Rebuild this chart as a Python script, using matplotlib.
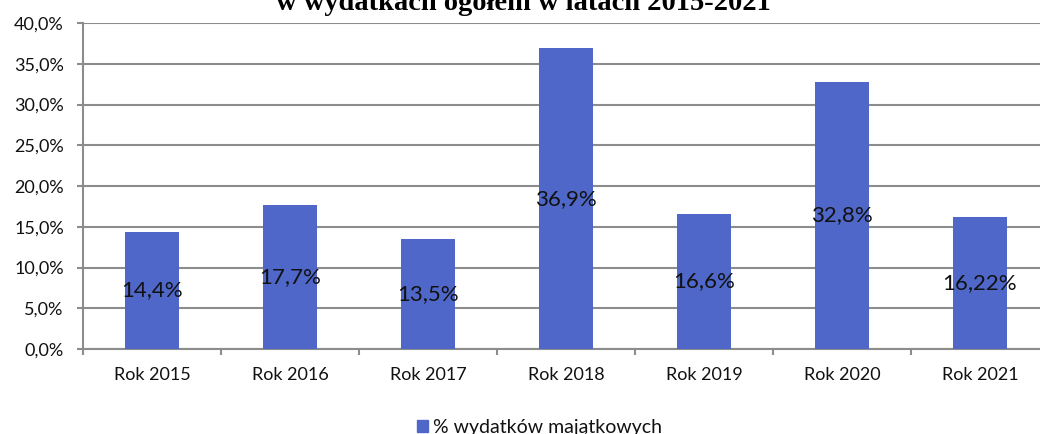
import matplotlib
matplotlib.use("Agg")
import matplotlib.pyplot as plt
from matplotlib.ticker import FuncFormatter, FixedLocator
from matplotlib.patches import Rectangle

categories = ["Rok 2015", "Rok 2016", "Rok 2017", "Rok 2018", "Rok 2019", "Rok 2020", "Rok 2021"]
values = [14.4, 17.7, 13.5, 36.9, 16.6, 32.8, 16.22]
labels = ["14,4%", "17,7%", "13,5%", "36,9%", "16,6%", "32,8%", "16,22%"]
title = "w wydatkach ogółem w latach 2015-2021"
legend_label = "% wydatków majątkowych"

W, H = 1040, 434
fig = plt.figure(figsize=(W / 100, H / 100), dpi=100)
L, R, T, B = 83, 1049, 23, 349
ax = fig.add_axes([L / W, 1 - B / H, (R - L) / W, (B - T) / H])

bar_color = "#4F67C8"
grid_color = "#8C8C8C"
x = list(range(len(categories)))
ax.bar(x, values, width=0.39, color=bar_color, zorder=3)

ax.set_xlim(-0.5, len(categories) - 0.5)
ax.set_ylim(0, 40)
ax.set_yticks([0, 5, 10, 15, 20, 25, 30, 35, 40])
ax.yaxis.set_major_formatter(FuncFormatter(lambda v, p: f"{v:.1f}%".replace(".", ",")))
ax.grid(axis="y", color=grid_color, linewidth=1.5, zorder=0)
ax.set_axisbelow(True)

ax.set_xticks(x)
ax.set_xticklabels(categories)
ax.xaxis.set_minor_locator(FixedLocator([i - 0.5 for i in range(len(categories) + 1)]))
ax.tick_params(axis="x", which="major", length=0, pad=13)
ax.tick_params(axis="x", which="minor", length=4.3, width=1.5, color=grid_color, direction="out")
ax.tick_params(axis="y", length=4.3, width=1.5, color=grid_color, pad=9.5)
for lab in ax.get_xticklabels() + ax.get_yticklabels():
    lab.set_fontfamily("Lato")
    lab.set_fontsize(13)
    lab.set_color("#111111")

for s in ["top", "right"]:
    ax.spines[s].set_visible(False)
for s in ["left", "bottom"]:
    ax.spines[s].set_color(grid_color)
    ax.spines[s].set_linewidth(1.5)

for xi, v, lab in zip(x, values, labels):
    ax.text(xi, v / 2, lab, ha="center", va="center", fontsize=16,
            fontfamily="Lato", color="#111111", zorder=4)

fig.text(523 / W, 1 - 9.5 / H, title, ha="center", va="baseline",
         fontsize=20.5, fontweight="bold", fontfamily="Liberation Serif")

fig.patches.append(Rectangle((417 / W, 1 - 432 / H), 11 / W, 12 / H,
                             transform=fig.transFigure, color=bar_color))
fig.text(433 / W, 1 - 433.5 / H, legend_label, ha="left", va="baseline",
         fontsize=14, fontfamily="Lato", color="#111111")

fig.savefig("out.png", dpi=100)
